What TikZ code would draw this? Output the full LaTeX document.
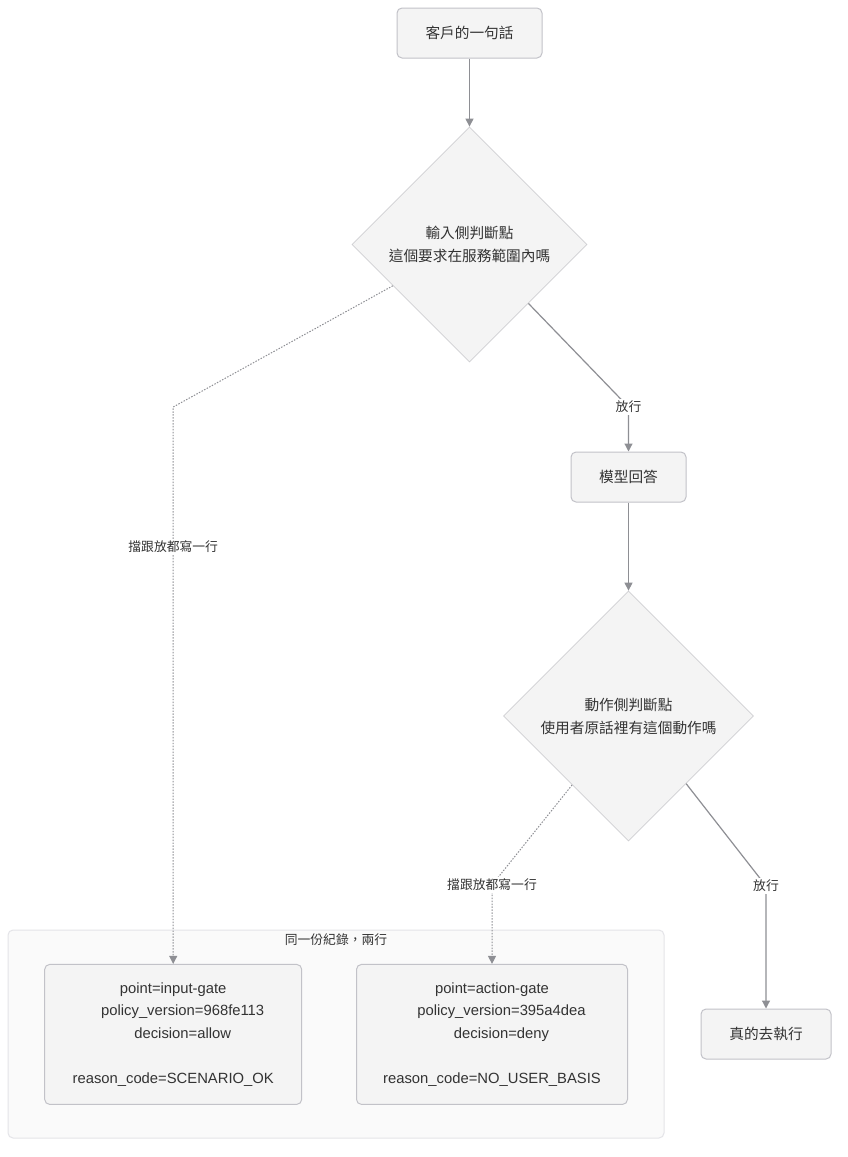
\documentclass[tikz,border=0pt]{standalone}
\usepackage{fontspec}
\setmainfont{Liberation Sans}
\newfontfamily\cjk{Noto Sans CJK TC}
\usetikzlibrary{shapes.geometric,arrows.meta,calc}
\definecolor{nodefill}{HTML}{F4F4F4}
\definecolor{nodeline}{HTML}{C2C2C8}
\definecolor{dialine}{HTML}{CFCFD2}
\definecolor{edgecol}{HTML}{8E8F94}
\definecolor{clfill}{HTML}{FAFAFA}
\definecolor{clline}{HTML}{E4E4E8}
\definecolor{txt}{HTML}{333333}
\begin{document}
\begin{tikzpicture}[x=0.75pt,y=-0.75pt,
 box/.style={draw=nodeline, fill=nodefill, rounded corners=3.75pt, line width=0.75pt, inner sep=0pt, text=txt, font=\cjk\fontsize{11}{14}\selectfont},
 dia/.style={diamond, aspect=1, draw=dialine, fill=nodefill, line width=0.6pt, inner sep=0pt, align=center, text=txt, font=\cjk\fontsize{11}{17.25}\selectfont},
 rec/.style={box, font=\fontsize{11.1}{16.9}\selectfont, align=center},
 edge/.style={draw=edgecol, line width=0.9pt, -{Triangle[length=6pt,width=6pt]}},
 dotedge/.style={edge, line width=0.75pt, dash pattern=on 1.1pt off 1.1pt},
 lbl/.style={fill=white, inner sep=1.5pt, text=txt, font=\cjk\fontsize{9.6}{12}\selectfont},
 cltitle/.style={inner sep=0pt, text=txt, font=\cjk\fontsize{9.6}{12}\selectfont}]
\useasboundingbox (0,0) rectangle (847,1157);
\fill[white] (0,0) rectangle (847,1157);

% cluster
\node[draw=clline, fill=clfill, rounded corners=3.75pt, line width=0.75pt, minimum width=492pt, minimum height=156pt, inner sep=0pt] (cl) at (336,1034) {};
\node[cltitle] (clt) at (336,940) {同一份紀錄，兩行};

% nodes
\node[box, minimum width=108.75pt, minimum height=37.5pt] (q) at (469.5,33) {客戶的一句話};
\node[dia, minimum width=176.25pt, minimum height=176.25pt] (d1) at (469.5,244.5) {輸入側判斷點\\這個要求在服務範圍內嗎};
\node[box, minimum width=86.25pt, minimum height=37.5pt] (m) at (628.5,477) {模型回答};
\node[dia, minimum width=187.5pt, minimum height=187.5pt] (d2) at (628.5,716) {動作側判斷點\\使用者原話裡有這個動作嗎};
\node[box, minimum width=97.5pt, minimum height=37.5pt] (x) at (766,1034) {真的去執行};
\node[rec, minimum width=192.75pt, minimum height=105pt] (r1) at (173.2,1034.4) {point=input-gate\\ \hspace*{14.25pt}policy\_version=968fe113\\ \hspace*{14.25pt}decision=allow\\ \strut\\ reason\_code=SCENARIO\_OK};
\node[rec, minimum width=203.25pt, minimum height=105pt] (r2) at (492,1034.4) {point=action-gate\\ \hspace*{14.25pt}policy\_version=395a4dea\\ \hspace*{14.25pt}decision=deny\\ \strut\\ reason\_code=NO\_USER\_BASIS};

% bend points
\coordinate (c1) at (628.5,407);
\coordinate (c2) at (173.2,407);
\coordinate (c3) at (492,885);
\coordinate (c4) at (766,886);

% edges
\draw[edge] (q.south) -- (d1.north);
\draw[edge] (d1.-45) -- (c1) -- (m.north);
\draw[dotedge] ($(d1.west)!0.35!(d1.south)$) -- (c2) -- (r1.north);
\draw[edge] (m.south) -- (d2.north);
\draw[dotedge] ($(d2.west)!0.55!(d2.south)$) -- (c3) -- (r2.north);
\draw[edge] ($(d2.east)!0.54!(d2.south)$) -- (c4) -- (x.north);

% labels
\node[lbl] (l1) at (c1) {放行};
\node[lbl] (l2) at (173.2,547) {擋跟放都寫一行};
\node[lbl] (l3) at (c3) {擋跟放都寫一行};
\node[lbl] (l4) at (c4) {放行};
\end{tikzpicture}
\end{document}
